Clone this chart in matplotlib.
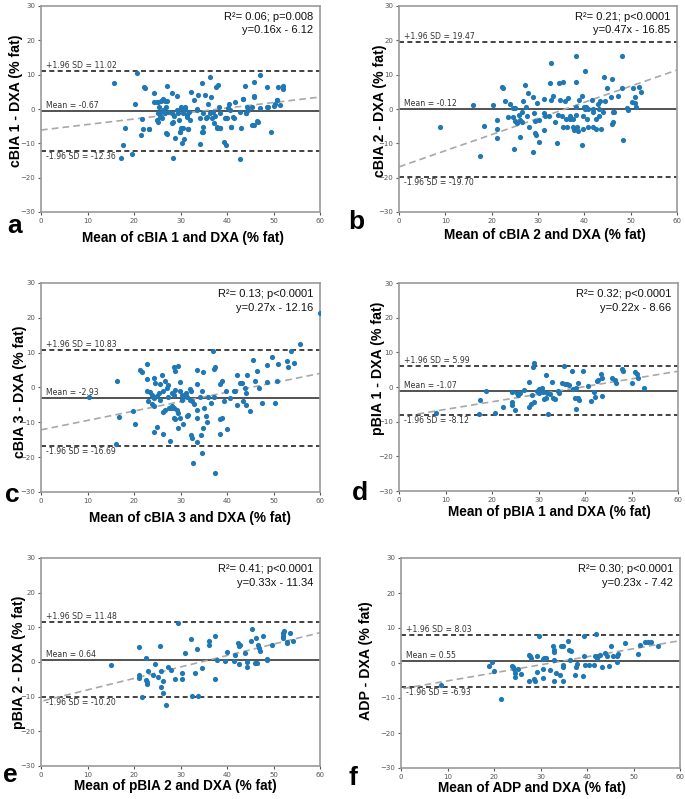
import matplotlib
matplotlib.use("Agg")
import matplotlib.pyplot as plt

# ---- data ----
letters = ["a", "b", "c", "d", "e", "f"]
methods = ["cBIA 1", "cBIA 2", "cBIA 3", "pBIA 1", "pBIA 2", "ADP"]
mean_bias = [-0.67, -0.12, -2.93, -1.07, 0.64, 0.55]
upper_loa = [11.02, 19.47, 10.83, 5.99, 11.48, 8.03]
lower_loa = [-12.36, -19.70, -16.69, -8.12, -10.20, -6.93]
slopes = [0.16, 0.47, 0.27, 0.22, 0.33, 0.23]
intercepts = [-6.12, -16.85, -12.16, -8.66, -11.34, -7.42]
r2_text = ["0.06", "0.21", "0.13", "0.32", "0.41", "0.30"]
p_text = ["p=0.008", "p<0.0001", "p<0.0001", "p<0.0001", "p<0.0001", "p<0.0001"]
fit_start = [0, 0, 0, 4, 0.5, 0.5]

# panel a - cBIA 1
a_x = [15.6, 20.6, 20.2, 18.1, 17.6, 17.1, 19.5, 21.5, 21.7, 22.0, 22.2, 22.4, 23.2, 24.3, 24.2,
       25.2, 25.0, 25.4, 25.6, 25.9, 26.3, 26.7, 27.2, 26.9, 27.0, 28.1, 28.1, 28.3, 29.2, 28.8,
       29.5, 29.9, 30.2, 30.4, 30.7, 30.2, 31.0, 31.3, 31.7, 32.2, 32.8, 33.5, 33.8, 34.1, 34.2,
       34.6, 34.8, 34.8, 35.3, 35.5, 36.0, 36.3, 36.7, 37.1, 37.6, 37.8, 38.1, 38.3, 38.5, 39.4,
       39.8, 39.9, 40.3, 40.5, 40.8, 41.5, 41.7, 42.9, 43.1, 43.4, 43.8, 44.1, 44.2, 45.3, 45.7,
       45.8, 45.8, 46.6, 47.0, 47.1, 48.5, 48.9, 49.4, 50.0, 50.7, 51.0, 51.4, 52.0, 52.0,
       25.2, 25.6, 25.1, 26.0, 26.3, 26.9, 27.4, 28.1, 28.3, 28.5, 29.2, 29.7, 30.2, 30.6, 30.9,
       31.4, 31.9, 32.0, 33.5, 34.9, 35.8, 36.3, 37.0, 37.4, 38.5, 39.6, 40.6, 41.2, 42.8, 44.0,
       44.6, 23.3, 27.0, 29.9, 30.6, 31.7, 34.7, 37.8, 38.4, 40.8, 45.4, 46.5, 50.3, 50.8, 48.5,
       36.5, 45.8, 43.5, 24.9, 25.9, 26.6]
a_y = [7.7, 10.6, 1.4, -5.4, -10.5, -14.4, -13.2, -7.7, -2.9, -5.9, 6.5, 6.0, -5.9, 4.7, 1.9,
       1.9, -3.2, 0.7, -1.3, -2.2, 2.8, -1.3, 6.7, -7.1, 2.2, 4.7, -4.0, -14.3, 3.9, -8.5,
       -1.3, -6.6, -5.6, -9.8, -8.8, 0.7, 0.5, -1.7, -5.9, 5.0, 2.6, -0.3, 4.1, -10.3, -2.7,
       7.5, -6.6, -5.1, 4.1, -2.7, 1.6, 9.4, -2.7, -4.2, 6.5, -5.1, 7.0, 0.7, -5.6, -9.5,
       -10.6, -2.7, 0.2, 1.6, -5.3, -2.7, 2.1, -14.6, -5.6, 2.8, 6.7, -1.3, 0.7, 0.5, 7.9,
       3.6, -4.6, -3.7, 0.2, 9.9, 6.3, 0.5, -6.8, 0.9, 2.6, 6.3, 1.2, 6.7, 5.7,
       -1.3, -2.2, -3.7, -2.7, -0.3, 0.6, -0.8, -1.3, -3.7, -2.0, -0.3, -3.2, 0.2, -1.3, -0.1,
       -2.2, -1.0, -3.2, 0.0, -1.3, -2.4, -1.3, -0.8, -2.0, -1.3, -2.7, -0.3, -2.2, -0.8, -1.3,
       -0.3, -5.8, -7.2, -6.6, -5.6, -5.8, -6.6, -5.4, -5.4, -5.2, -4.7, -3.5, 1.4, 2.6, 0.5,
       3.5, 3.8, 2.9, 1.9, 2.4, 2.4]

# panel b - cBIA 2
b_x = [8.9, 15.9, 20.2, 18.4, 17.4, 21.2, 21.1, 21.1, 22.2, 22.4, 22.9, 24.0, 23.6, 24.7, 25.0,
       24.7, 25.0, 25.4, 24.8, 26.0, 26.1, 26.5, 26.5, 26.1, 26.8, 27.2, 27.9, 27.4, 27.7, 28.1,
       28.9, 29.1, 29.4, 29.4, 29.6, 28.9, 29.7, 30.3, 30.3, 31.2, 31.4, 31.5, 31.4, 32.4, 32.6,
       32.8, 32.7, 33.3, 33.7, 34.0, 34.4, 34.7, 35.1, 35.3, 34.6, 35.5, 35.8, 36.0, 36.2, 36.5,
       36.8, 36.9, 37.5, 37.6, 37.8, 38.2, 38.2, 38.3, 38.3, 38.5, 38.7, 38.9, 39.4, 39.8, 39.5,
       39.8, 40.0, 40.1, 40.3, 40.1, 40.5, 40.7, 40.8, 41.6, 41.8, 41.9, 41.9, 42.5, 42.6, 43.0,
       43.2, 43.4, 43.5, 43.2, 44.1, 44.4, 44.2, 44.8, 45.7, 45.9, 46.2, 45.9, 46.2, 46.4, 47.3,
       48.2, 48.2, 48.4, 49.2, 49.5, 50.2, 50.5, 50.9, 50.9, 51.1, 51.8, 52.3]
b_y = [-5.3, 1.2, 1.2, -5.0, -13.8, -3.2, -5.8, -8.4, 6.5, 6.1, 2.4, 1.5, -2.2, 0.3, 0.3,
       -2.2, -3.4, -4.2, -11.7, -1.7, -3.2, -3.9, -1.0, -8.1, 2.2, 7.1, 4.6, 0.7, -1.9, -5.1,
       3.4, -1.3, -3.6, -6.9, -7.5, -12.6, 1.7, -3.2, -9.7, 3.0, -1.3, -1.9, -6.1, -1.9, 7.7,
       13.3, 2.6, 3.7, -3.9, -10.0, -1.7, 2.6, -2.0, -5.1, 7.7, 7.8, 2.4, -2.9, -5.3, 3.1,
       -2.9, -1.9, -2.9, -5.3, -6.1, 15.3, 7.8, 0.5, -1.7, -5.1, -6.3, 2.7, 3.7, -1.9, -10.4,
       -5.8, 0.7, 0.0, 0.5, 11.0, -2.9, -5.3, 0.0, 2.7, -1.0, 0.0, -5.1, -2.9, -5.8, 1.5,
       0.0, 2.2, -5.8, -1.9, -1.0, 2.4, 9.4, 6.1, 3.6, 8.7, -1.0, -4.4, -3.9, -1.0, 3.9,
       6.0, 15.5, -8.9, 0.3, -0.3, 1.9, 6.1, 3.6, 1.7, 0.7, 6.5, 5.0]

# panel c - cBIA 3
c_x = [10.4, 16.3, 16.1, 16.7, 19.7, 20.2, 21.3, 21.7, 22.7, 22.7, 22.9, 23.1, 23.4, 23.8, 24.0,
       24.2, 23.8, 24.2, 24.3, 24.5, 24.3, 24.9, 25.0, 25.4, 25.6, 26.0, 25.6, 26.3, 26.3, 26.7,
       26.2, 26.7, 27.0, 27.4, 27.4, 27.6, 27.9, 28.1, 28.5, 27.7, 28.1, 28.5, 28.8, 28.8, 28.6,
       29.5, 28.5, 28.8, 29.2, 29.5, 29.5, 29.9, 30.3, 30.5, 30.3, 29.9, 29.9, 30.5, 30.6, 31.2,
       31.5, 31.3, 31.7, 32.0, 32.3, 32.0, 32.4, 32.8, 32.2, 32.4, 32.6, 33.6, 33.6, 33.5, 33.6,
       33.6, 34.2, 34.6, 34.4, 34.6, 34.8, 35.0, 34.8, 35.5, 35.8, 36.0, 36.5, 36.9, 37.2, 37.4,
       37.1, 37.4, 38.5, 38.9, 38.4, 38.6, 38.9, 39.4, 39.8, 40.1, 40.6, 41.5, 41.7, 42.1, 42.2,
       42.8, 43.2, 43.5, 43.9, 44.1, 44.1, 44.4, 44.9, 45.5, 46.0, 46.5, 46.9, 47.5, 48.7, 48.7,
       49.6, 50.3, 50.8, 51.0, 53.0, 53.2, 53.7, 54.4, 55.6, 59.9]
c_y = [-2.7, 1.8, -16.3, -8.4, -6.7, -10.4, 5.0, 4.5, 6.8, 2.3, -0.9, -4.0, -1.4, -2.1, -2.6,
       -3.0, -4.8, -5.4, 2.6, 1.3, -12.7, -11.2, -2.3, -1.6, -3.5, 3.7, 1.0, -1.1, -6.9, -6.4,
       -13.3, 1.8, -0.1, 0.8, -2.6, -5.9, -5.9, -5.4, -5.9, -15.5, -1.6, -2.1, -0.6, 4.7, 5.9,
       6.1, -8.8, -9.0, -6.6, -11.7, -7.4, -0.9, -2.1, -2.3, -3.5, 1.6, -8.8, -10.5, -2.8, -1.7,
       -2.6, -8.3, -7.9, -0.4, -1.1, -3.5, -4.0, -4.8, -13.6, -14.6, -21.7, 4.9, 1.0, -6.4, -8.8,
       -15.6, -2.8, -1.1, -13.6, -18.7, 4.5, -5.9, -11.7, -8.3, -9.8, -2.8, -4.5, 10.6, 5.4, 5.9,
       -2.8, -24.5, -9.0, -8.8, -13.4, 1.1, 1.8, -4.0, -1.1, -11.9, -3.0, -1.1, -0.9, -5.0, 3.7,
       1.3, 1.3, -4.0, -0.1, -1.6, -5.0, 3.7, -6.7, 7.8, 2.0, 4.7, -0.1, -4.5, 1.6, 6.5,
       8.7, -4.5, 1.8, 6.7, 7.6, 5.8, 10.6, 7.0, 12.4, 21.3]

# panel d - pBIA 1
d_x = [8.0, 17.2, 17.5, 18.8, 20.6, 22.3, 24.2, 24.4, 24.4, 24.9, 25.3, 25.6, 26.0, 26.9, 28.0,
       28.0, 28.3, 28.7, 28.9, 29.1, 29.0, 29.6, 30.0, 30.2, 30.7, 31.0, 31.2, 31.6, 31.8, 31.6,
       32.1, 32.5, 33.0, 33.2, 33.5, 34.1, 34.5, 35.0, 35.5, 35.7, 36.2, 36.6, 37.1, 37.5, 37.9,
       38.1, 38.1, 38.4, 38.6, 38.8, 39.5, 40.7, 41.2, 42.0, 42.2, 42.5, 42.7, 43.4, 43.6, 43.6,
       45.8, 46.5, 46.7, 47.9, 48.1, 50.1, 50.8, 51.1, 51.5, 52.7]
d_y = [-7.6, -7.9, -3.8, -1.1, -7.4, -5.7, -1.4, -4.4, -5.2, -6.7, -1.8, -2.3, -1.8, -0.9, 1.5,
       -5.7, -5.0, -2.3, 5.7, 6.8, -4.4, -1.2, -1.8, -0.6, -0.2, -1.4, -3.6, -3.1, -1.8, 3.5,
       -7.9, -2.0, 1.5, -3.3, -3.5, -1.2, -1.8, 1.1, 6.2, 0.8, 0.8, 0.6, 4.6, -0.6, -3.1,
       -0.4, -6.4, -3.1, 1.1, -3.8, 4.6, 0.3, -4.1, -1.4, -2.8, 1.7, 2.0, 3.7, 2.5, -2.6,
       2.7, 2.0, 1.1, 5.2, 4.6, 1.1, 4.2, 3.7, 2.5, -0.4]

# panel e - pBIA 2
e_x = [15.1, 21.1, 21.1, 21.1, 21.7, 22.5, 22.6, 22.7, 22.9, 23.1, 24.0, 24.5, 25.2, 25.6, 25.9,
       25.9, 26.2, 26.3, 26.9, 27.4, 27.9, 28.8, 29.5, 30.3, 30.3, 31.0, 32.2, 32.4, 33.8, 33.1,
       33.6, 34.6, 36.2, 36.2, 37.4, 37.4, 37.9, 39.6, 39.9, 41.4, 41.7, 42.4, 42.6, 42.6, 42.8,
       43.9, 44.2, 44.2, 45.1, 45.3, 46.2, 46.5, 46.7, 46.9, 47.1, 47.8, 48.5, 49.6, 52.0, 52.1,
       52.1, 52.3, 52.8, 52.8, 53.5, 54.1, 46.0, 48.7]
e_y = [-0.8, 4.2, -3.7, -4.7, -10.0, 1.1, -5.2, -5.9, -6.3, -2.5, -3.7, -0.6, -4.2, 4.5, -2.7,
       -7.1, -5.6, -9.0, -12.4, -1.5, -2.3, -5.0, 11.2, -3.2, -5.0, 2.6, 6.7, -9.8, -9.8, -3.2,
       3.7, -1.6, 4.9, 6.1, 7.6, -5.0, 0.6, 0.4, 3.0, 0.4, 2.1, 5.4, 4.5, -0.5, 5.0,
       2.6, 0.1, -1.3, 6.1, 9.5, 6.9, -0.3, 5.0, 4.0, 3.3, 7.4, 0.6, 5.0, 7.6, 8.3,
       6.9, 8.8, 5.9, 5.4, 8.5, 6.2, -0.3, 1.0]

# panel f - ADP
f_x = [8.5, 19.0, 19.5, 19.9, 21.5, 23.8, 24.0, 24.3, 24.5, 24.5, 25.2, 25.9, 27.6, 27.7, 27.9,
       27.6, 28.5, 28.8, 29.2, 29.3, 29.7, 30.5, 30.8, 31.2, 30.5, 30.6, 32.0, 32.6, 32.8, 32.8,
       33.0, 33.0, 33.3, 34.1, 34.4, 34.8, 34.8, 34.9, 34.8, 36.0, 36.2, 36.5, 36.3, 37.4, 37.6,
       37.9, 39.2, 39.4, 39.4, 39.6, 40.5, 41.4, 41.7, 41.9, 42.1, 42.4, 42.9, 43.2, 43.9, 44.2,
       44.8, 45.1, 45.5, 46.4, 46.5, 46.7, 48.2, 51.0, 51.4, 52.5, 53.2, 53.8, 55.2]
f_y = [-6.2, -0.8, 0.3, -2.2, -10.3, -0.8, -1.1, -1.7, -2.9, -4.0, -1.7, -3.0, 2.4, 1.9, 1.4,
       -5.0, -4.6, -5.2, -2.7, 1.9, 7.8, 1.1, 1.4, 1.4, -1.7, -4.3, -2.1, 4.8, 3.8, 3.1,
       1.0, -5.2, -2.9, -3.3, 5.0, 5.0, -0.5, -1.1, -5.0, 6.2, 3.6, 3.3, 0.8, -3.3, -1.0,
       -0.2, -3.8, 7.8, 1.9, -0.5, -0.5, -0.5, 1.9, 8.4, 1.4, 2.1, 2.4, -1.0, 3.0, 1.9,
       -0.8, 4.8, 1.9, 0.2, 1.9, 2.7, 5.7, 2.7, 5.2, 5.9, 5.9, 5.9, 4.8]

xs = [a_x, b_x, c_x, d_x, e_x, f_x]
ys = [a_y, b_y, c_y, d_y, e_y, f_y]

# ---- layout (pixel boxes of each axes in the 685x799 figure) ----
W, H = 685, 799
boxes = [(41, 6, 320, 212), (399, 6, 677, 212),
         (41, 283, 320, 492), (399, 283, 678, 491),
         (41, 558, 320, 766), (401, 558, 680, 768)]
letter_pos = [(15, 226), (356, 222), (12, 495), (360, 493), (10, 775), (353, 778)]
# ylabel: right edge (px left of spine) and vertical centre (axes frac)
ylab_dx = [18, 12, 14, 14, 15, 28]
ylab_cy = [0.54, 0.49, 0.48, 0.59, 0.50, 0.51]
# xlabel: horizontal centre (axes frac) and gap below spine (px)
xlab_cx = [0.51, 0.525, 0.534, 0.54, 0.48, 0.47]
xlab_dy = [19, 16, 19, 14, 13, 13]

fig = plt.figure(figsize=(W / 100, H / 100), dpi=100)
blue = "#1f77b4"
bold_font = "Liberation Sans"

for i in range(6):
    l, t, r, b = boxes[i]
    aw, ah = r - l, b - t
    ax = fig.add_axes([l / W, 1 - b / H, aw / W, ah / H])

    ax.scatter(xs[i], ys[i], s=14, color=blue, linewidths=0, zorder=3)

    ax.axhline(mean_bias[i], color="#444444", lw=1.3, zorder=2)
    ax.axhline(upper_loa[i], color="#222222", lw=1.2, ls=(0, (3, 2)), zorder=2)
    ax.axhline(lower_loa[i], color="#222222", lw=1.2, ls=(0, (3, 2)), zorder=2)

    fx = [fit_start[i], 60]
    fy = [slopes[i] * v + intercepts[i] for v in fx]
    ax.plot(fx, fy, color="#a8a8a8", lw=1.2, ls=(0, (4, 2.5)), zorder=2)

    lab_kw = dict(fontsize=5.6, color="#333333", family="DejaVu Sans")
    ax.text(1.0, upper_loa[i] + 0.3, "+1.96 SD = %.2f" % upper_loa[i], va="bottom", **lab_kw)
    ax.text(1.0, mean_bias[i] + 0.3, "Mean = %.2f" % mean_bias[i], va="bottom", **lab_kw)
    ax.text(1.0, lower_loa[i] - 0.3, "-1.96 SD = %.2f" % lower_loa[i], va="top", **lab_kw)

    ax.text(0.975, 0.947, "R\u00b2= %s; %s" % (r2_text[i], p_text[i]), transform=ax.transAxes,
            ha="right", va="center", fontsize=8, family=bold_font, color="#111111")
    sign = "-" if intercepts[i] < 0 else "+"
    ax.text(0.975, 0.882, "y=%.2fx %s %.2f" % (slopes[i], sign, abs(intercepts[i])),
            transform=ax.transAxes, ha="right", va="center", fontsize=8,
            family=bold_font, color="#111111")

    ax.set_xlim(0, 60)
    ax.set_ylim(-30, 30)
    ax.set_xticks(range(0, 61, 10))
    ax.set_yticks(range(-30, 31, 10))
    ax.tick_params(labelsize=5, colors="#555555", length=2.5, width=0.8, pad=1.5)
    for sp in ax.spines.values():
        sp.set_color("#9a9a9a")
        sp.set_linewidth(1.2)

    ax.set_xlabel("Mean of %s and DXA (%% fat)" % methods[i], fontsize=9.8,
                  fontweight="bold", family=bold_font)
    ax.xaxis.set_label_coords(xlab_cx[i], -xlab_dy[i] / ah)
    ax.xaxis.label.set_va("top")
    ax.set_ylabel("%s - DXA (%% fat)" % methods[i], fontsize=10.2, fontweight="bold",
                  family=bold_font)
    ax.yaxis.set_label_coords(-ylab_dx[i] / aw, ylab_cy[i])

    lx, ly = letter_pos[i]
    fig.text(lx / W, 1 - ly / H, letters[i], fontsize=19, fontweight="bold",
             family=bold_font, ha="center", va="center")

fig.savefig("out.png", dpi=100)
